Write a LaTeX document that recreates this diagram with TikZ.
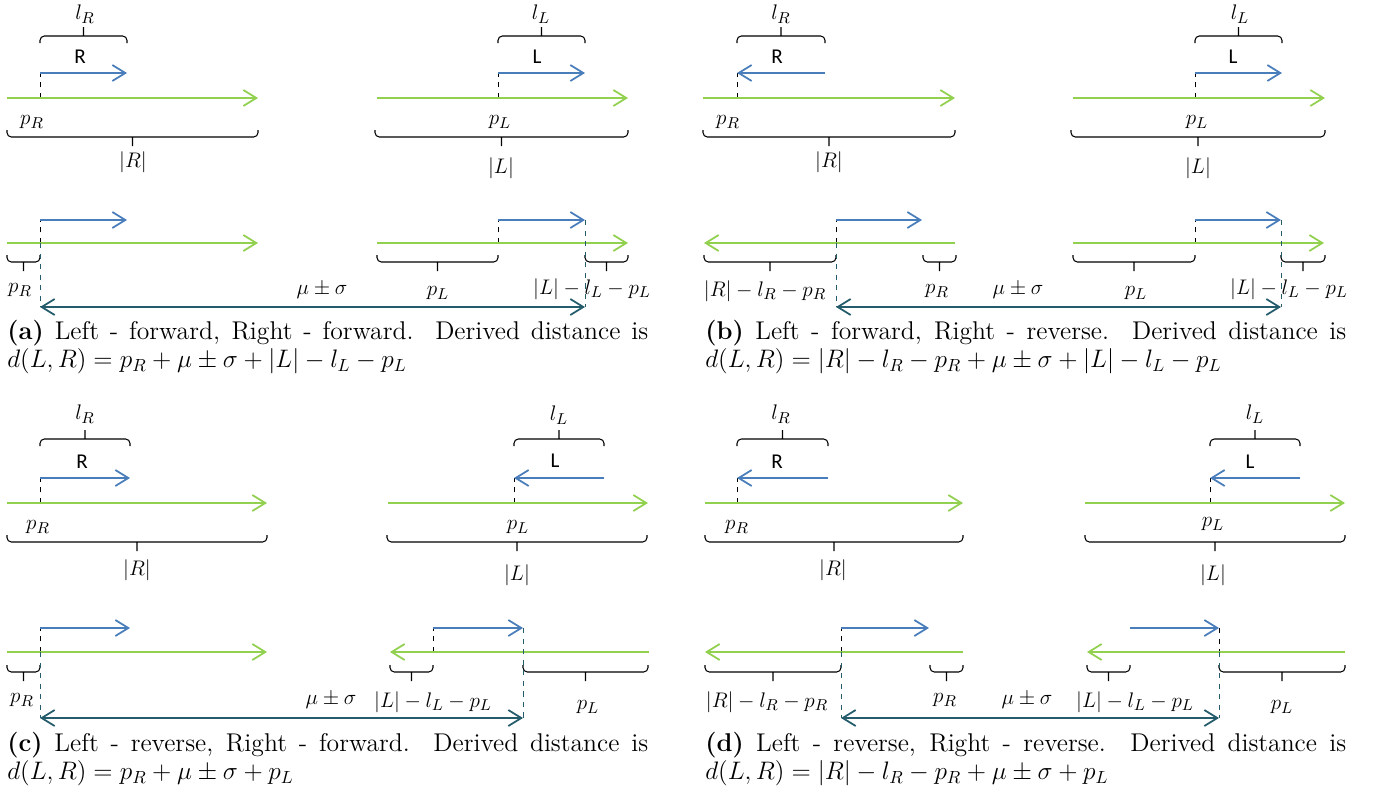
\documentclass[tikz,border=0pt]{standalone}
\usepackage{fontspec}
\newfontfamily\calfont{Carlito}
\usetikzlibrary{arrows.meta,calc}

\definecolor{refgreen}{RGB}{146,208,80}
\definecolor{readblue}{RGB}{74,126,187}
\definecolor{gapteal}{RGB}{36,92,108}

\tikzset{
  barb/.style={line width=1pt,-{Straight Barb[length=0.26cm,width=0.32cm]}},
  contig/.style={barb,draw=refgreen},
  read/.style={barb,draw=readblue},
  gap/.style={line width=1pt,draw=gapteal,{Straight Barb[length=0.26cm,width=0.32cm]}-{Straight Barb[length=0.26cm,width=0.32cm]}},
  guide/.style={dashed,thin,black},
  tealguide/.style={dashed,thin,draw=gapteal},
  sqbrace/.style={line width=0.6pt,rounded corners=2.5pt,to path={
    (\tikztostart) -- ($(\tikztostart)+(0,#1*7)$) -- ($(\tikztotarget)+(0,#1*7)$) -- (\tikztotarget)
    ($(\tikztostart)!.5!(\tikztotarget)+(0,#1*7)$) -- ($(\tikztostart)!.5!(\tikztotarget)+(0,#1*16)$)}},
  overbrace/.style={sqbrace=-1},
  underbrace/.style={sqbrace=1},
  lbl/.style={inner sep=1pt,font=\fontsize{12.5}{13}\selectfont},
  readname/.style={inner sep=1pt,font=\fontsize{12}{13}\calfont},
  caption/.style={anchor=north west,inner sep=0pt,text width=12.82cm,align=justify,
    font=\fontsize{14.6}{16}\selectfont}
}

\begin{document}
\begin{tikzpicture}[x=0.02cm,y=-0.02cm]
\useasboundingbox (0,0) rectangle (1375,791);

%%%%%%%%%%%%%%%%%%%%%%%%
% (a) forward, forward
%%%%%%%%%%%%%%%%%%%%%%%%

\coordinate (a1) at (7,98);
\coordinate (a2) at (258,98);
\coordinate (a3) at (40,98);
\coordinate (a4) at (40,73);
\coordinate (a5) at (127,73);
\draw[overbrace] (40,43) to (127,43);
\node[lbl] (alR) at (85,14) {$l_R$};
\node[readname] (aR) at (80,57) {R};
\draw[guide] (a3) -- (a4);
\draw[read] (a4) -- (a5);
\draw[contig] (a1) -- (a2);
\node[lbl] (apR) at (32,122) {$p_R$};
\draw[underbrace] (7,130) to (258,130);
\node[lbl] (aRlen) at (133,162) {$|R|$};

\coordinate (a6) at (377,98);
\coordinate (a7) at (628,98);
\coordinate (a8) at (498,98);
\coordinate (a9) at (498,73);
\coordinate (a10) at (585,73);
\draw[overbrace] (498,43) to (585,43);
\node[lbl] (alL) at (541,14) {$l_L$};
\node[readname] (aL) at (537,57) {L};
\draw[guide] (a8) -- (a9);
\draw[read] (a9) -- (a10);
\draw[contig] (a6) -- (a7);
\node[lbl] (apL) at (500,122) {$p_L$};
\draw[underbrace] (375,130) to (628,130);
\node[lbl] (aLlen) at (501,168) {$|L|$};

\coordinate (b1) at (7,243);
\coordinate (b2) at (258,243);
\coordinate (b3) at (40,243);
\coordinate (b4) at (40,220);
\coordinate (b5) at (127,220);
\coordinate (b6) at (40,307);
\draw[guide] (b3) -- (b4);
\draw[read] (b4) -- (b5);
\draw[contig] (b1) -- (b2);
\draw[underbrace] (7,255) to (40,255);
\node[lbl] (bpR) at (20,290) {$p_R$};
\draw[tealguide] (b3) -- (b6);

\coordinate (b7) at (377,243);
\coordinate (b8) at (628,243);
\coordinate (b9) at (498,243);
\coordinate (b10) at (498,220);
\coordinate (b11) at (585,220);
\coordinate (b12) at (585,307);
\draw[guide] (b9) -- (b10);
\draw[read] (b10) -- (b11);
\draw[contig] (b7) -- (b8);
\draw[underbrace] (377,255) to (498,255);
\node[lbl] (bpL) at (438,293) {$p_L$};
\draw[underbrace] (585,255) to (628,255);
\node[lbl] (brest) at (592,289) {$|L|-l_L-p_L$};
\draw[tealguide] (b11) -- (b12);

\draw[gap] (b6) -- (b12);
\node[lbl] (bmu) at (322,290) {$\mu\pm\sigma$};

\node[caption] (capa) at (7,320) {\textbf{(a)} Left - forward, Right - forward.\ \ Derived distance is\linebreak
$d(L,R)=p_R+\mu\pm\sigma+|L|-l_L-p_L$};

%%%%%%%%%%%%%%%%%%%%%%%%
% (b) forward, reverse
%%%%%%%%%%%%%%%%%%%%%%%%

\coordinate (c1) at (703,98);
\coordinate (c2) at (955,98);
\coordinate (c3) at (737,98);
\coordinate (c4) at (737,73);
\coordinate (c5) at (825,73);
\draw[overbrace] (737,43) to (825,43);
\node[lbl] (clR) at (781,14) {$l_R$};
\node[readname] (cR) at (777,57) {R};
\draw[guide] (c3) -- (c4);
\draw[read] (c5) -- (c4);
\draw[contig] (c1) -- (c2);
\node[lbl] (cpR) at (728,122) {$p_R$};
\draw[underbrace] (703,130) to (955,130);
\node[lbl] (cRlen) at (829,162) {$|R|$};

\coordinate (c6) at (1073,98);
\coordinate (c7) at (1325,98);
\coordinate (c8) at (1195,98);
\coordinate (c9) at (1195,73);
\coordinate (c10) at (1282,73);
\draw[overbrace] (1195,43) to (1282,43);
\node[lbl] (clL) at (1240,14) {$l_L$};
\node[readname] (cL) at (1233,57) {L};
\draw[guide] (c8) -- (c9);
\draw[read] (c9) -- (c10);
\draw[contig] (c6) -- (c7);
\node[lbl] (cpL) at (1197,122) {$p_L$};
\draw[underbrace] (1071,130) to (1325,130);
\node[lbl] (cLlen) at (1198,168) {$|L|$};

\coordinate (d1) at (955,243);
\coordinate (d2) at (704,243);
\coordinate (d3) at (836,243);
\coordinate (d4) at (836,220);
\coordinate (d5) at (922,220);
\coordinate (d6) at (836,307);
\draw[guide] (d3) -- (d4);
\draw[read] (d4) -- (d5);
\draw[contig] (d1) -- (d2);
\draw[underbrace] (704,255) to (836,255);
\node[lbl] (drest) at (765,291) {$|R|-l_R-p_R$};
\draw[underbrace] (923,255) to (956,255);
\node[lbl] (dpR) at (937,291) {$p_R$};
\draw[tealguide] (d3) -- (d6);

\coordinate (d7) at (1073,243);
\coordinate (d8) at (1324,243);
\coordinate (d9) at (1195,243);
\coordinate (d10) at (1195,220);
\coordinate (d11) at (1281,220);
\coordinate (d12) at (1281,307);
\draw[guide] (d9) -- (d10);
\draw[read] (d10) -- (d11);
\draw[contig] (d7) -- (d8);
\draw[underbrace] (1073,255) to (1195,255);
\node[lbl] (dpL) at (1136,293) {$p_L$};
\draw[underbrace] (1281,255) to (1325,255);
\node[lbl] (drest2) at (1289,289) {$|L|-l_L-p_L$};
\draw[tealguide] (d11) -- (d12);

\draw[gap] (d6) -- (d12);
\node[lbl] (dmu) at (1018,290) {$\mu\pm\sigma$};

\node[caption] (capb) at (705,320) {\textbf{(b)} Left - forward, Right - reverse.\ \ Derived distance is\linebreak
$d(L,R)=|R|-l_R-p_R+\mu\pm\sigma+|L|-l_L-p_L$};

%%%%%%%%%%%%%%%%%%%%%%%%
% (c) reverse, forward
%%%%%%%%%%%%%%%%%%%%%%%%

\coordinate (e1) at (7,503);
\coordinate (e2) at (267,503);
\coordinate (e3) at (40,503);
\coordinate (e4) at (40,478);
\coordinate (e5) at (130,478);
\draw[overbrace] (40,446) to (130,446);
\node[lbl] (elR) at (85,414) {$l_R$};
\node[readname] (eR) at (82,462) {R};
\draw[guide] (e3) -- (e4);
\draw[read] (e4) -- (e5);
\draw[contig] (e1) -- (e2);
\node[lbl] (epR) at (38,527) {$p_R$};
\draw[underbrace] (7,535) to (267,535);
\node[lbl] (eRlen) at (137,570) {$|R|$};

\coordinate (e6) at (388,503);
\coordinate (e7) at (648,503);
\coordinate (e8) at (514,503);
\coordinate (e9) at (514,478);
\coordinate (e10) at (604,478);
\draw[overbrace] (514,446) to (604,446);
\node[lbl] (elL) at (559,415) {$l_L$};
\node[readname] (eL) at (555,461) {L};
\draw[guide] (e8) -- (e9);
\draw[read] (e10) -- (e9);
\draw[contig] (e6) -- (e7);
\node[lbl] (epL) at (518,527) {$p_L$};
\draw[underbrace] (387,535) to (647,535);
\node[lbl] (eLlen) at (517,575) {$|L|$};

\coordinate (f1) at (7,652);
\coordinate (f2) at (267,652);
\coordinate (f3) at (40,652);
\coordinate (f4) at (40,628);
\coordinate (f5) at (130,628);
\coordinate (f6) at (40,718);
\draw[guide] (f3) -- (f4);
\draw[read] (f4) -- (f5);
\draw[contig] (f1) -- (f2);
\draw[underbrace] (7,665) to (40,665);
\node[lbl] (fpR) at (22,700) {$p_R$};
\draw[tealguide] (f3) -- (f6);

\coordinate (f7) at (649,652);
\coordinate (f8) at (390,652);
\coordinate (f9) at (433,652);
\coordinate (f10) at (433,628);
\coordinate (f11) at (523,628);
\coordinate (f12) at (523,718);
\draw[guide] (f9) -- (f10);
\draw[read] (f10) -- (f11);
\draw[contig] (f7) -- (f8);
\draw[underbrace] (390,665) to (433,665);
\node[lbl] (frest) at (433,702) {$|L|-l_L-p_L$};
\draw[underbrace] (523,665) to (648,665);
\node[lbl] (fpL) at (588,707) {$p_L$};
\draw[tealguide] (f11) -- (f12);

\draw[gap] (f6) -- (f12);
\node[lbl] (fmu) at (331,700) {$\mu\pm\sigma$};

\node[caption] (capc) at (7,732) {\textbf{(c)} Left - reverse, Right - forward.\ \ Derived distance is\linebreak
$d(L,R)=p_R+\mu\pm\sigma+p_L$};

%%%%%%%%%%%%%%%%%%%%%%%%
% (d) reverse, reverse
%%%%%%%%%%%%%%%%%%%%%%%%

\coordinate (g1) at (705,503);
\coordinate (g2) at (963,503);
\coordinate (g3) at (737,503);
\coordinate (g4) at (737,478);
\coordinate (g5) at (828,478);
\draw[overbrace] (737,446) to (828,446);
\node[lbl] (glR) at (781,414) {$l_R$};
\node[readname] (gR) at (777,462) {R};
\draw[guide] (g3) -- (g4);
\draw[read] (g5) -- (g4);
\draw[contig] (g1) -- (g2);
\node[lbl] (gpR) at (737,527) {$p_R$};
\draw[underbrace] (705,535) to (963,535);
\node[lbl] (gRlen) at (833,570) {$|R|$};

\coordinate (g6) at (1085,503);
\coordinate (g7) at (1345,503);
\coordinate (g8) at (1210,503);
\coordinate (g9) at (1210,478);
\coordinate (g10) at (1300,478);
\draw[overbrace] (1210,446) to (1300,446);
\node[lbl] (glL) at (1255,414) {$l_L$};
\node[readname] (gL) at (1250,462) {L};
\draw[guide] (g8) -- (g9);
\draw[read] (g10) -- (g9);
\draw[contig] (g6) -- (g7);
\node[lbl] (gpL) at (1213,524) {$p_L$};
\draw[underbrace] (1085,535) to (1345,535);
\node[lbl] (gLlen) at (1213,575) {$|L|$};

\coordinate (h1) at (963,652);
\coordinate (h2) at (705,652);
\coordinate (h3) at (841,652);
\coordinate (h4) at (841,628);
\coordinate (h5) at (929,628);
\coordinate (h6) at (841,718);
\draw[guide] (h3) -- (h4);
\draw[read] (h4) -- (h5);
\draw[contig] (h1) -- (h2);
\draw[underbrace] (705,665) to (841,665);
\node[lbl] (hrest) at (767,702) {$|R|-l_R-p_R$};
\draw[underbrace] (930,665) to (963,665);
\node[lbl] (hpR) at (945,700) {$p_R$};
\draw[tealguide] (h3) -- (h6);

\coordinate (h7) at (1345,652);
\coordinate (h8) at (1087,652);
\coordinate (h9) at (1219,652);
\coordinate (h10) at (1130,628);
\coordinate (h11) at (1219,628);
\coordinate (h12) at (1219,718);
\draw[guide] (h11) -- (h9);
\draw[read] (h10) -- (h11);
\draw[contig] (h7) -- (h8);
\draw[underbrace] (1087,665) to (1130,665);
\node[lbl] (hrest2) at (1135,702) {$|L|-l_L-p_L$};
\draw[underbrace] (1219,665) to (1345,665);
\node[lbl] (hpL) at (1282,707) {$p_L$};
\draw[tealguide] (h9) -- (h12);

\draw[gap] (h6) -- (h12);
\node[lbl] (hmu) at (1027,700) {$\mu\pm\sigma$};

\node[caption] (capd) at (705,732) {\textbf{(d)} Left - reverse, Right - reverse.\ \ Derived distance is\linebreak
$d(L,R)=|R|-l_R-p_R+\mu\pm\sigma+p_L$};

\end{tikzpicture}
\end{document}
